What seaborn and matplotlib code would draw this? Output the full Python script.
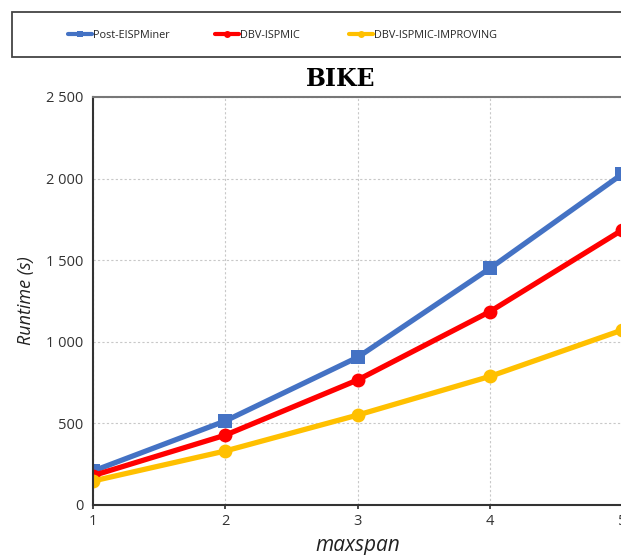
import matplotlib
matplotlib.use("Agg")
import matplotlib.pyplot as plt
import matplotlib.ticker as mticker
from matplotlib.patches import Rectangle
import seaborn as sns
import pandas as pd

maxspan = [1, 2, 3, 4, 5]
post_eispminer = [208, 515, 905, 1450, 2028]
dbv_ispmic = [180, 428, 766, 1185, 1685]
dbv_ispmic_improving = [147, 331, 551, 788, 1072]
series_names = ["Post-EISPMiner", "DBV-ISPMIC", "DBV-ISPMIC-IMPROVING"]
colors = ["#4472C4", "#FF0000", "#FFC000"]
markers = ["s", "o", "o"]

rows = []
for name, vals in zip(series_names, [post_eispminer, dbv_ispmic, dbv_ispmic_improving]):
    for x, v in zip(maxspan, vals):
        rows.append({"maxspan": x, "Runtime": v, "series": name})
df = pd.DataFrame(rows)

sns.set_theme(style="white")
plt.rcParams["font.family"] = ["Open Sans", "DejaVu Sans"]

W, H = 621, 555
fig = plt.figure(figsize=(W / 100, H / 100), dpi=100)
ax = fig.add_axes([93 / W, 1 - 505 / H, 1 - 93 / W + 0.002, (505 - 97) / H])

sns.lineplot(data=df, x="maxspan", y="Runtime", hue="series", style="series",
             hue_order=series_names, style_order=series_names,
             palette=colors, markers=markers, dashes=False, linewidth=3.8,
             markersize=10, markeredgewidth=0, ax=ax, legend=True)

ax.set_xlim(1, 5.0)
ax.set_ylim(0, 2500)
ax.set_xticks(maxspan)
ax.set_yticks([0, 500, 1000, 1500, 2000, 2500])
ax.yaxis.set_major_formatter(mticker.FuncFormatter(lambda v, p: f"{int(v):,}".replace(",", " ")))
ax.grid(True, linestyle=(0, (2, 2)), color="#c8c8c8", linewidth=0.8)
for s in ["left", "bottom"]:
    ax.spines[s].set_color("#333333")
    ax.spines[s].set_linewidth(1.5)
ax.spines["top"].set_color("#777777")
ax.spines["top"].set_linewidth(1.5)
ax.spines["right"].set_visible(False)
ax.tick_params(axis="both", labelsize=10.5, colors="#333333", length=3, direction="out", bottom=True)
ax.tick_params(axis="y", left=False, pad=4)
ax.set_xlabel("maxspan", fontsize=15, style="italic", color="#222222", labelpad=4)
ax.set_ylabel("Runtime (s)", fontsize=13, style="italic", color="#222222", labelpad=8)

fig.text(341 / W, 1 - 79 / H, "BIKE", fontsize=17, fontweight="bold",
         family="DejaVu Serif", color="black", ha="center", va="center")

handles, labels = ax.get_legend_handles_labels()
ax.get_legend().remove()

# legend frame
fig.patches.append(Rectangle((12 / W, 1 - 57 / H), 640 / W, 45 / H, transform=fig.transFigure,
                             facecolor="white", edgecolor="#444444", linewidth=1.3, zorder=0))
starts = [68, 215, 349]
for h, lab, x0 in zip(handles, labels, starts):
    lg = fig.legend([h], [lab], loc="center left", bbox_to_anchor=(x0 / W, 1 - 35 / H),
                    frameon=False, fontsize=7.8, handlelength=2.2, handletextpad=0.1,
                    borderaxespad=0, borderpad=0)
    for lh in lg.legend_handles:
        lh.set_markersize(5)
        lh.set_linewidth(3)

fig.savefig("out.png", dpi=100)
